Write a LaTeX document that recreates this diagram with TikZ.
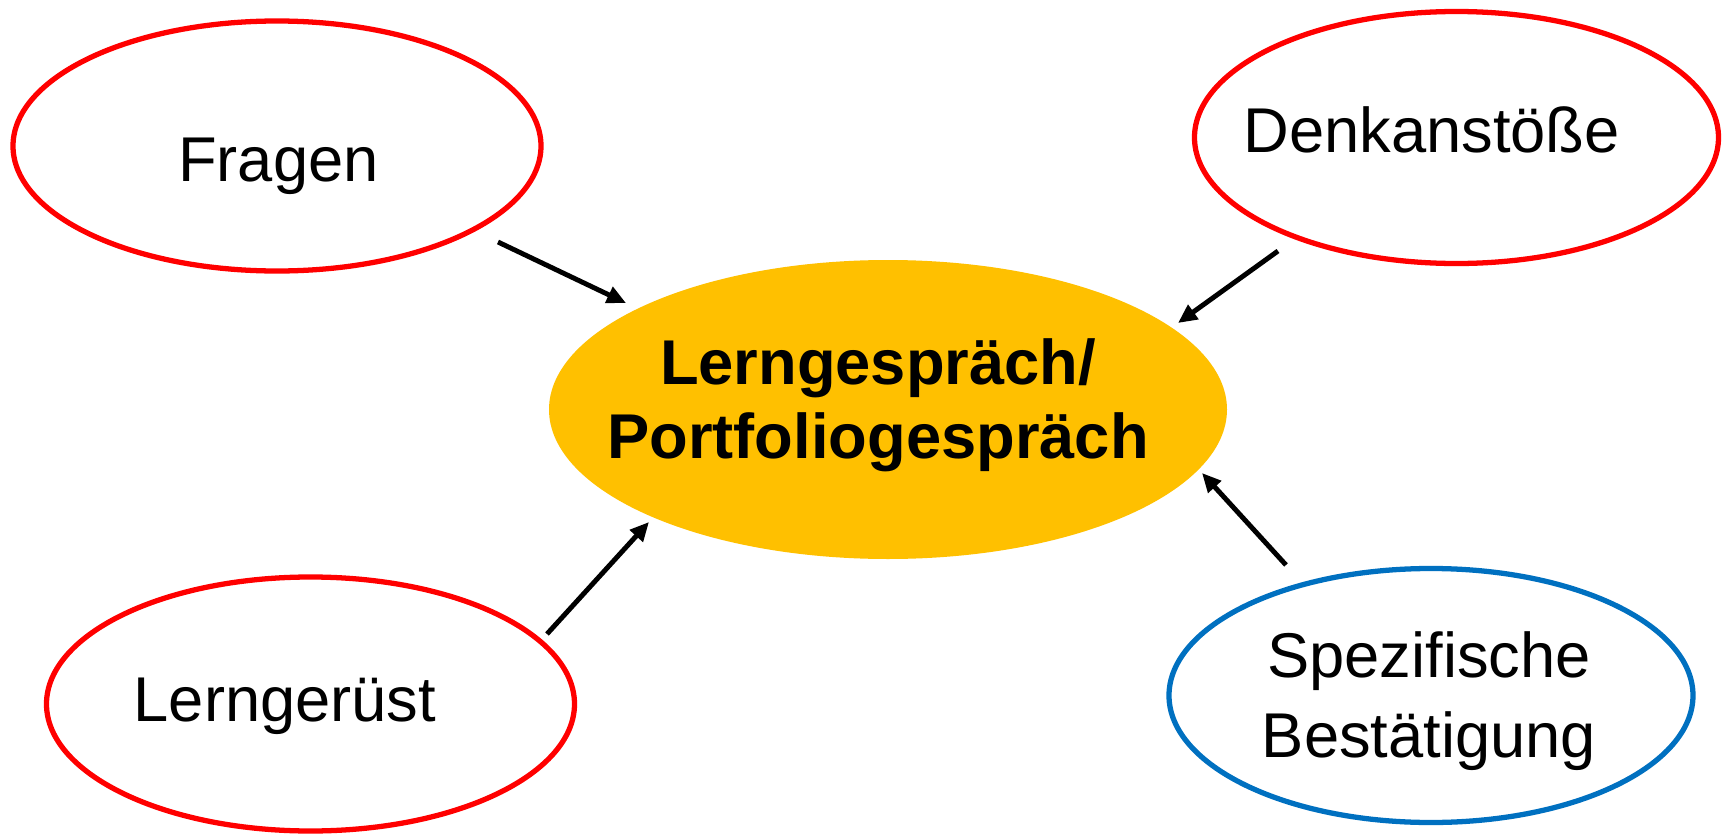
\documentclass[tikz,border=0pt]{standalone}
\usepackage{fontspec}
\setmainfont{Liberation Sans}
\usetikzlibrary{shapes.geometric,arrows.meta}
\definecolor{rot}{RGB}{255,0,0}
\definecolor{blau}{RGB}{0,112,192}
\definecolor{gold}{RGB}{255,192,0}

\begin{document}
\begin{tikzpicture}[
    oval/.style={ellipse, line width=1.5pt, inner sep=0pt},
    txt/.style={anchor=base, inner sep=0pt, align=center, font=\fontsize{18}{21}\selectfont},
    pfeil/.style={line width=1.4pt, -{Triangle[length=0.19cm, width=0.17cm]}}
  ]
    \useasboundingbox (0, 0) rectangle (17.28, 8.39);

    \node [oval, draw=rot, minimum width=5.28cm, minimum height=2.50cm] (fragen) at (2.77, 6.93) {};
    \node [txt] (fragen-t) at (2.785, 6.58) {Fragen};

    \node [oval, draw=rot, minimum width=5.24cm, minimum height=2.52cm] (denk) at (14.565, 7.015) {};
    \node [txt] (denk-t) at (14.315, 6.87) {Denkanstöße};

    \node [oval, fill=gold, minimum width=6.78cm, minimum height=2.99cm] (gespr) at (8.88, 4.295) {};
    \node [txt, font=\fontsize{18}{21}\selectfont\bfseries] (gespr-t) at (8.78, 3.81) {Lerngespräch/\\Portfoliogespräch};

    \node [oval, draw=rot, minimum width=5.28cm, minimum height=2.54cm] (geruest) at (3.105, 1.35) {};
    \node [txt] (geruest-t) at (2.85, 1.18) {Lerngerüst};

    \node [oval, draw=blau, minimum width=5.24cm, minimum height=2.54cm] (best) at (14.31, 1.435) {};
    \node [txt, font=\fontsize{18}{22.7}\selectfont] (best-t) at (14.29, 0.82) {Spezifische\\Bestätigung};

%    Pfeile zum Gespraech
    \coordinate (a1) at (4.98, 5.97);
    \coordinate (b1) at (6.26, 5.36);
    \coordinate (a2) at (12.78, 5.88);
    \coordinate (b2) at (11.78, 5.16);
    \coordinate (a3) at (5.47, 2.05);
    \coordinate (b3) at (6.49, 3.17);
    \coordinate (a4) at (12.86, 2.74);
    \coordinate (b4) at (12.02, 3.66);

    \draw [pfeil] (a1) -- (b1);
    \draw [pfeil] (a2) -- (b2);
    \draw [pfeil] (a3) -- (b3);
    \draw [pfeil] (a4) -- (b4);
  \end{tikzpicture}
\end{document}
